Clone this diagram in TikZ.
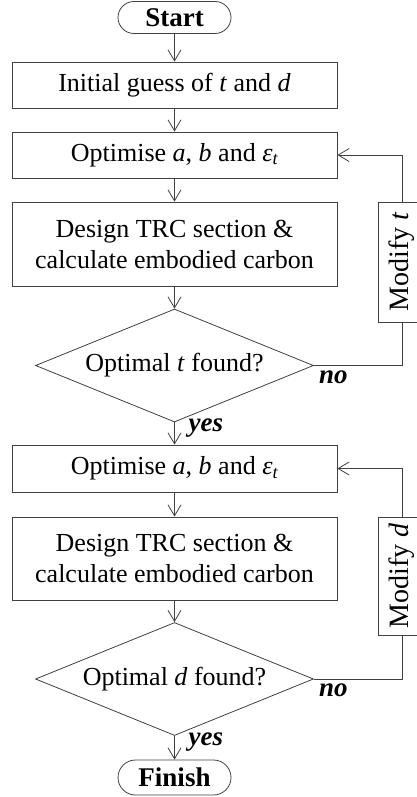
\documentclass[tikz,border=0pt]{standalone}
\usepackage{fontspec}
\setmainfont{Liberation Serif}
\usetikzlibrary{arrows.meta,shapes.geometric,shapes.misc,calc}

\newcommand{\epst}{\textit{ε\textsubscript{t}}}

\begin{document}
\begin{tikzpicture}[x=1pt, y=-1pt,
  base/.style={draw=black!75, line width=0.8pt, align=center, font=\fontsize{26}{31}\selectfont, inner sep=0pt},
  box/.style={base, minimum width=325pt},
  term/.style={base, rounded rectangle, minimum width=113pt, minimum height=32pt, font=\fontsize{27}{31}\selectfont\bfseries},
  dec/.style={base, diamond, aspect=2.46, minimum width=278pt, minimum height=113pt},
  side/.style={base, minimum width=48pt, font=\fontsize{28}{32}\selectfont},
  arr/.style={-{Straight Barb[length=11pt, width=13pt]}, draw=black!75, line width=0.8pt},
  lbl/.style={font=\fontsize{27}{31}\selectfont\bfseries\itshape, inner sep=2pt}
]
\useasboundingbox (0,0) rectangle (416,797);
% --- main column ---
\node[term] (start) at (174.5,17.5)  {Start};
\node[box, minimum height=46pt] (init) at (174.5,85)    {Initial guess of \textit{t} and \textit{d}};
\node[box, minimum height=46pt] (opt1) at (174.5,155)   {Optimise \textit{a}, \textit{b} and \epst};
\node[box, minimum height=84pt] (des1) at (174.5,244)   {Design TRC section \&\\calculate embodied carbon};
\node[dec]   (dec1)  at (174.5,365.5) {Optimal \textit{t} found?};
\node[box, minimum height=47pt] (opt2) at (174.5,468.5) {Optimise \textit{a}, \textit{b} and \epst};
\node[box, minimum height=83pt] (des2) at (174.5,558.5) {Design TRC section \&\\calculate embodied carbon};
\node[dec]   (dec2)  at (174.5,679)   {Optimal \textit{d} found?};
\node[term, minimum height=35pt] (fin) at (174.5,777.5) {Finish};
% --- loop boxes ---
\node[side, minimum height=120pt] (modt) at (402,262) {\rotatebox{90}{Modify \textit{t}}};
\node[side, minimum height=118pt] (modd) at (402,576) {\rotatebox{90}{Modify \textit{d}}};
% --- main flow ---
\draw[arr] (start) -- (init);
\draw[arr] (init) -- (opt1);
\draw[arr] (opt1) -- (des1);
\draw[arr] (des1) -- (dec1);
\draw[arr] (dec1) -- (opt2);
\draw[arr] (opt2) -- (des2);
\draw[arr] (des2) -- (dec2);
\draw[arr] (dec2) -- (fin);
% --- loops ---
\draw[draw=black!75, line width=0.8pt] (dec1.east) -| (modt.south);
\draw[arr] (modt.north) |- (opt1.east);
\draw[draw=black!75, line width=0.8pt] (dec2.east) -| (modd.south);
\draw[arr] (modd.north) |- (opt2.east);
% --- labels ---
\node[lbl, anchor=north west] (no1)  at ([xshift=3pt, yshift=-3pt]dec1.east)   {no};
\node[lbl, anchor=north west] (no2)  at ([xshift=3pt, yshift=-3pt]dec2.east)   {no};
\node[lbl, anchor=west]       (yes1) at ([xshift=12pt, yshift=-6pt]dec1.south) {yes};
\node[lbl, anchor=west]       (yes2) at ([xshift=12pt, yshift=-6pt]dec2.south) {yes};
\end{tikzpicture}
\end{document}
